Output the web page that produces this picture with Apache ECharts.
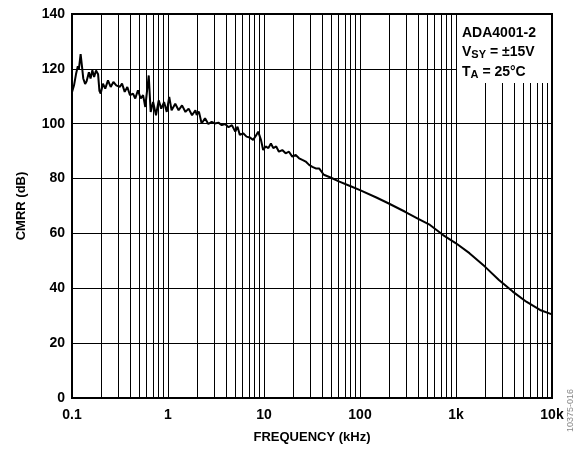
<!DOCTYPE html>
<html>
<head>
<meta charset="utf-8">
<script src="https://cdn.jsdelivr.net/npm/echarts@6/dist/echarts.min.js"></script>
<style>
html,body{margin:0;padding:0;background:#fff;}
#chart{width:577px;height:449px;}
</style>
</head>
<body>
<div id="chart"></div>
<script>
// Frequency in kHz
var freq = [0.1,0.105,0.11,0.115,0.118,0.123,0.127,0.131,0.137,0.142,0.15,0.156,0.163,0.17,0.178,0.187,0.193,0.199,0.21,0.222,0.237,0.253,0.27,0.289,0.314,0.332,0.354,0.377,0.402,0.432,0.456,0.486,0.52,0.55,0.58,0.63,0.66,0.7,0.75,0.8,0.85,0.91,0.97,1.03,1.09,1.19,1.29,1.4,1.52,1.64,1.78,1.93,1.99,2.1,2.24,2.43,2.63,2.85,3.09,3.35,3.63,3.94,4.27,4.63,5.02,5.3,5.6,6.07,6.58,7.1,7.7,8.2,8.7,9.3,9.8,10.4,11.1,11.8,12.5,13.4,14.3,15.5,16.8,18.2,19.7,21.4,23.2,25.1,27.2,29.5,31.9,34.6,37.5,42,50,61,80,100,150,197,295,400,536,734,1000,1380,2000,2800,3900,5400,7500,10000];
// CMRR in dB
var cmrr = [111.5,114,118,121,120,125.4,121,116.5,114.5,115.5,118.8,116.5,119.5,117,119.4,118,112,111,114.6,112.8,115.8,113.4,115.2,114,113.4,114.6,111.6,113.4,110.4,111,109.2,112.2,109.2,110.4,106.1,117.6,104.3,107.9,103.1,108.5,105.5,107.9,104.3,109.8,104.9,107.3,104.9,106.7,104.3,105.5,103.1,104.9,103.2,104.4,100.1,102,99.9,100.7,100.1,100.4,99.5,99.9,98.7,99.5,97.1,98.9,95.9,96.5,95.3,95,94.1,95.5,97.1,94.1,90.4,91.7,91.1,92.8,91.1,91.7,89.8,90.4,89.2,89.8,88,88.6,87.4,86.8,86.2,85,84.3,83.7,83.7,81.4,80.3,78.9,77.2,75.8,73,71,67.9,65.4,63.1,59.4,56.4,52.8,47.9,43,38.8,35.1,32.1,30.5];
var xTickLabels = ['0.1','1','10','100','1k','10k'];
var yTickLabels = ['0','20','40','60','80','100','120','140'];
var decades = [0.1,1,10,100,1000];
var minorMultipliers = [2,3,4,5,6,7,8,9];

var minorGrid = [];
decades.forEach(function(d){ minorMultipliers.forEach(function(m){ minorGrid.push({xAxis: +(d*m).toPrecision(3)}); }); });

var data = freq.map(function(f,i){ return [f, cmrr[i]]; });
var FONT = 'Liberation Sans, Arial, sans-serif';

var chart = echarts.init(document.getElementById('chart'), null, {renderer:'canvas'});
chart.setOption({
  animation:false,
  backgroundColor:'#fff',
  grid:{left:72,right:25,top:14,bottom:51,show:true,borderColor:'#000',borderWidth:2,backgroundColor:'transparent'},
  xAxis:{
    type:'log', logBase:10, min:0.1, max:10000, splitNumber:5,
    name:'FREQUENCY (kHz)', nameLocation:'middle', nameGap:33,
    nameTextStyle:{fontFamily:FONT,fontWeight:'bold',fontSize:13,color:'#000'},
    axisLine:{show:true,lineStyle:{color:'#000',width:2}},
    axisTick:{show:false},
    axisLabel:{fontFamily:FONT,fontWeight:'bold',fontSize:14,color:'#000',margin:10,
      formatter:function(v,i){ return xTickLabels[i]; }},
    splitLine:{show:true,lineStyle:{color:'#000',width:1}}
  },
  yAxis:{
    type:'value', min:0, max:140, interval:20,
    name:'CMRR (dB)', nameLocation:'middle', nameGap:44,
    nameTextStyle:{fontFamily:FONT,fontWeight:'bold',fontSize:13,color:'#000'},
    axisLine:{show:true,lineStyle:{color:'#000',width:2}},
    axisTick:{show:false},
    axisLabel:{fontFamily:FONT,fontWeight:'bold',fontSize:14,color:'#000',margin:7,
      formatter:function(v,i){ return yTickLabels[i]; }},
    splitLine:{show:true,lineStyle:{color:'#000',width:1}}
  },
  series:[{
    type:'line', data:data, symbol:'none', smooth:false,
    lineStyle:{color:'#000',width:2},
    markLine:{silent:true,symbol:['none','none'],label:{show:false},
      lineStyle:{color:'#000',width:1,type:'solid'},
      emphasis:{disabled:true},
      data:minorGrid}
  }],
  graphic:[
    {type:'rect',z:100,shape:{x:457,y:15,width:94,height:68},style:{fill:'#fff'}},
    {type:'text',z:101,left:462,top:23,style:{
      text:'ADA4001-2\n{n|V}{s|SY}{n| = ±15V}\n{n|T}{s|A}{n| = 25°C}',
      font:'bold 14px '+FONT, fill:'#000', lineHeight:19.5,
      rich:{n:{font:'bold 14px '+FONT,fill:'#000',lineHeight:19.5},
            s:{font:'bold 11px '+FONT,fill:'#000',padding:[6,0,0,0],lineHeight:19.5}}
    }},
    {type:'text',z:101,x:566,y:432,rotation:Math.PI/2,style:{
      text:'10375-016',font:'9px '+FONT,fill:'#888',textVerticalAlign:'top'}}
  ]
});
</script>
</body>
</html>
